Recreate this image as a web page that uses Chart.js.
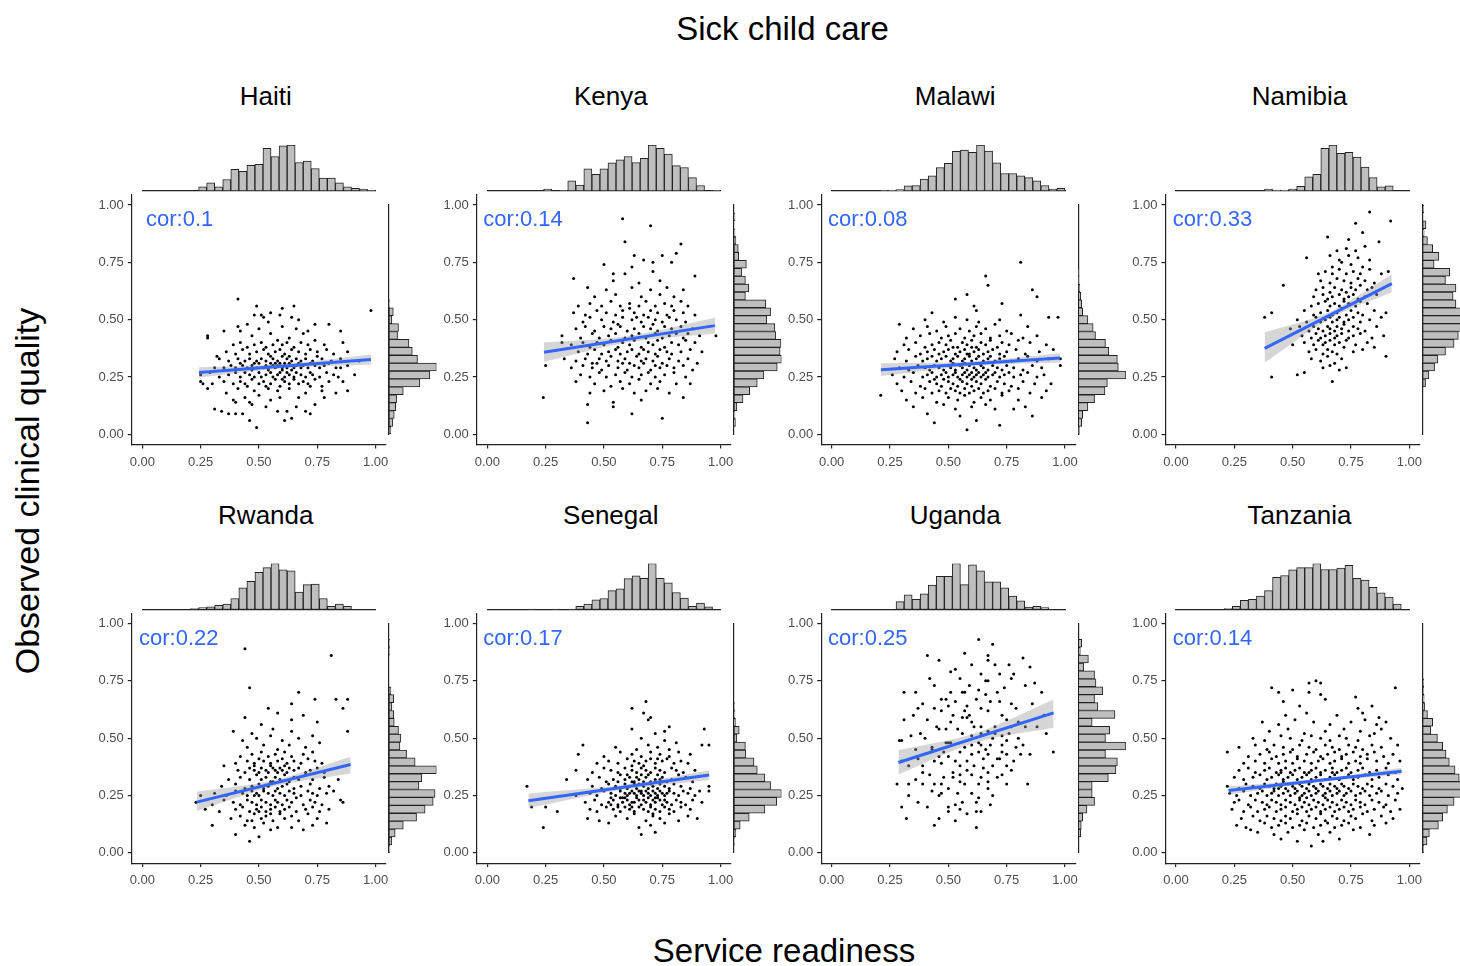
<!DOCTYPE html>
<html>
<head>
<meta charset="utf-8">
<script src="https://cdn.jsdelivr.net/npm/chart.js@4.4.1/dist/chart.umd.min.js"></script>
<style>
  html, body { margin: 0; padding: 0; background: #fff; }
  body { width: 1460px; height: 966px; position: relative; overflow: hidden;
         font-family: "Liberation Sans", Arial, sans-serif; }
  .txt { position: absolute; white-space: nowrap; color: #000; line-height: 1; }
</style>
</head>
<body>
<div class="txt" style="left:782.5px;top:12px;font-size:33px;transform:translateX(-50%);">Sick child care</div>
<div class="txt" style="left:784px;top:934px;font-size:33px;transform:translateX(-50%);">Service readiness</div>
<div class="txt" style="left:26.5px;top:491px;font-size:34px;transform:translate(-50%,-50%) rotate(-90deg);">Observed clinical quality</div>
<script>
// ---------- data ----------
const countries = ['Haiti', 'Kenya', 'Malawi', 'Namibia', 'Rwanda', 'Senegal', 'Uganda', 'Tanzania'];
const corValues = [0.1, 0.14, 0.08, 0.33, 0.22, 0.17, 0.25, 0.14];
const corLabelX = [0.016, -0.017, -0.016, -0.014, -0.014, -0.017, -0.016, -0.014];
const tickValues = [0, 0.25, 0.5, 0.75, 1];
const tickLabels = ['0.00', '0.25', '0.50', '0.75', '1.00'];

// linear fit ends and confidence band (left, middle, right)
const fitX0 = [0.243, 0.243, 0.211, 0.380, 0.233, 0.176, 0.286, 0.225];
const fitX1 = [0.980, 0.976, 0.979, 0.925, 0.893, 0.951, 0.951, 0.967];
const fitY0 = [0.270, 0.358, 0.282, 0.375, 0.221, 0.227, 0.394, 0.272];
const fitY1 = [0.326, 0.474, 0.333, 0.657, 0.385, 0.339, 0.610, 0.356];
const bandUpper = [[0.292, 0.308, 0.348], [0.400, 0.430, 0.508], [0.310, 0.318, 0.353], [0.445, 0.531, 0.698],
                   [0.266, 0.316, 0.419], [0.259, 0.293, 0.360], [0.448, 0.523, 0.669], [0.290, 0.321, 0.371]];
const bandLower = [[0.248, 0.288, 0.304], [0.316, 0.402, 0.440], [0.254, 0.298, 0.313], [0.312, 0.501, 0.619],
                   [0.182, 0.290, 0.346], [0.195, 0.273, 0.318], [0.342, 0.481, 0.545], [0.254, 0.307, 0.341]];

// marginal histograms (29 bins over 0..1, relative heights)
const haitiTop    = [0,0,0,0,0,0,0,9,18,9,25,47,43,56,58,93,75,98,100,62,65,49,28,28,18,9,6,4,1];
const haitiSide   = [4,8,11,14,16,30,65,86,100,60,49,42,18,20,6,9,1,0,0,0,0,0,0,0,0,0,0,0,0];
const kenyaTop    = [0,0,0,0,0,0,0,4,0,1,22,13,48,36,48,61,68,75,62,71,100,93,80,55,51,29,12,0,1];
const kenyaSide   = [0,3,2,6,19,33,49,63,91,100,97,99,88,86,69,77,67,24,31,24,16,26,10,9,4,2,0,2,0];
const malawiTop   = [0,0,0,0,0,0,1,2,3,11,12,26,33,51,60,86,89,84,100,87,61,38,38,33,29,22,12,4,6];
const malawiSide  = [2,7,9,20,34,56,61,100,84,82,64,57,36,31,20,9,7,5,3,1,1,0,0,0,0,0,0,0,0];
const namibiaTop  = [0,0,0,0,0,0,0,0,0,0,0,4,2,2,4,10,31,36,93,100,82,84,74,52,29,9,11,0,0];
const namibiaSide = [0,0,0,0,0,0,6,13,25,32,48,66,75,100,90,82,70,64,70,48,57,24,34,21,10,3,7,0,2];
const rwandaTop   = [0,0,0,0,0,0,2,4,6,9,12,24,47,61,81,91,100,86,84,38,54,55,24,7,12,7,0,0,0];
const rwandaSide  = [2,6,13,30,58,76,93,97,63,69,100,55,37,23,25,20,11,10,6,10,4,0,0,0,0,1,1,0,0];
const senegalTop  = [0,0,0,0,0,1,0,0,1,0,1,7,12,21,24,41,45,67,73,68,100,68,58,37,25,7,14,6,0];
const senegalSide = [0,1,4,13,32,65,90,100,77,65,49,42,25,24,6,11,3,2,1,0,0,0,0,0,0,0,0,0,0];
const ugandaTop   = [0,0,0,0,0,0,0,0,17,32,22,34,53,72,72,100,54,97,84,60,60,47,29,19,5,7,4,0,0];
const ugandaSide  = [0,0,5,6,9,18,34,29,29,63,79,82,57,100,57,66,29,77,41,34,51,37,34,11,21,4,7,0,0];
const tanzaniaTop = [0,0,0,0,0,0,2,7,20,22,29,41,70,74,86,91,91,100,87,87,90,96,68,64,48,36,27,12,0];
const tanzaniaSide= [2,9,14,33,42,52,66,94,100,77,68,56,49,42,31,17,21,10,4,3,2,2,0,0,0,0,0,0,0];

// facility scores: x,y pairs in percent (service readiness, observed quality)
const haitiPoints = [49,3,46,6,61,6,64,7,37,9,40,9,43,9,58,10,70,10,72,9,31,11,34,10,53,12,62,10,74,13,47,13,66,12,
39,15,40,14,46,14,78,16,67,16,55,15,59,16,44,16,83,18,77,19,58,19,50,17,41,20,28,20,36,18,63,20,70,18,48,19,54,20,72,21,88,19,
25,23,26,22,86,23,30,22,35,23,39,22,42,23,45,21,47,24,50,22,52,23,55,22,57,24,59,21,61,23,63,22,65,24,67,22,69,23,71,22,74,24,77,21,80,23,44,22,60,24,53,21,
25,26,29,27,91,26,33,25,37,26,40,27,42,25,44,27,46,26,48,25,50,27,51,25,53,26,55,27,56,25,58,26,59,27,61,25,62,27,63,26,65,25,66,27,68,26,70,25,72,27,73,26,76,25,79,27,82,26,84,25,54,28,60,28,64,28,47,28,
31,29,35,29,85,29,38,30,40,29,43,30,45,29,47,30,49,29,50,31,52,29,53,30,54,29,55,31,56,30,57,29,58,30,59,31,60,29,61,30,62,29,63,31,64,30,65,29,66,30,67,31,68,29,69,30,71,29,72,31,74,30,76,29,78,30,80,31,83,29,88,30,57,31,61,31,48,31,42,31,
93,32,33,33,37,32,41,33,44,32,46,33,49,32,51,33,53,32,56,33,58,32,60,34,62,33,64,32,66,33,68,32,70,33,73,32,75,34,77,33,81,32,85,33,55,34,63,34,
32,34,82,35,36,36,40,35,43,37,46,35,49,36,52,37,54,35,57,36,59,37,61,35,64,37,67,36,70,35,72,37,75,36,79,37,88,36,
86,40,39,39,42,40,45,38,48,39,51,40,53,38,56,39,58,41,60,39,62,40,65,38,68,40,71,39,74,41,78,39,
28,43,28,42,35,45,42,45,47,43,55,44,63,42,69,44,85,45,41,47,74,48,80,48,54,49,50,46,60,47,66,46,45,48,71,45,
48,52,51,52,52,51,55,53,59,52,64,51,67,50,60,55,41,59,49,56,65,56,98,54];

const kenyaPoints = [43,5,75,7,62,9,43,13,54,12,24,16,84,16,54,14,66,15,44,18,50,19,58,20,63,18,68,19,73,20,78,18,
70,22,81,22,38,23,46,22,53,21,57,23,61,22,65,24,74,23,87,22,40,26,44,25,48,27,51,25,55,26,59,27,62,25,66,26,69,27,72,25,76,26,80,27,85,25,
25,30,36,29,41,30,45,29,47,31,49,28,52,30,56,29,58,31,60,28,63,30,65,29,67,31,70,28,72,30,74,29,77,30,80,29,84,30,88,28,
33,33,38,32,42,33,45,31,48,33,51,32,53,34,56,32,59,33,61,31,64,34,66,32,68,33,71,32,73,34,75,31,78,33,82,32,86,33,90,31,
39,36,43,35,46,37,49,35,52,36,55,37,57,35,60,36,62,37,65,35,67,37,69,36,72,35,74,37,77,36,79,35,83,36,87,37,92,36,
32,40,36,39,41,40,44,38,47,40,50,39,53,41,56,38,58,40,61,39,63,41,66,38,69,40,71,39,73,41,76,38,79,40,82,39,85,41,89,40,
32,43,91,43,98,43,40,42,45,44,48,42,52,43,55,44,59,42,62,43,65,44,68,42,72,44,75,42,78,43,81,44,84,42,86,44,
38,46,42,47,46,45,50,47,53,46,57,47,60,45,63,46,67,47,70,46,73,45,76,47,79,46,83,47,88,46,71,48,56,48,
41,49,44,51,49,50,54,49,58,51,62,50,66,49,69,51,72,50,75,49,78,51,81,50,85,49,64,51,
37,53,42,52,47,54,51,53,55,52,58,54,63,53,67,52,70,54,73,53,77,52,80,54,84,53,89,52,61,55,
39,56,44,57,49,56,53,58,57,56,61,57,65,56,68,58,72,56,76,57,79,56,83,58,86,56,
46,60,55,61,66,60,74,61,80,60,43,64,51,63,62,64,70,63,77,64,84,63,37,68,54,67,65,66,74,67,89,69,
54,70,59,70,71,71,50,74,67,76,71,75,79,75,62,73,63,78,75,78,81,79,83,83,59,84,70,91,58,94];

const malawiPoints = [58,2,44,5,62,6,72,4,41,9,86,8,55,8,78,11,35,12,48,13,53,11,60,12,66,13,70,11,83,12,
21,17,32,15,39,16,45,14,50,16,54,15,57,17,61,14,64,16,68,15,73,17,80,15,90,16,
30,19,36,18,40,20,43,18,46,19,49,18,51,20,53,19,55,18,57,20,59,18,61,19,63,20,65,18,67,19,70,20,73,18,76,19,80,20,85,18,92,19,
94,22,28,22,34,23,38,21,42,23,45,22,47,21,50,23,52,22,54,21,56,23,58,22,60,21,62,23,64,22,66,24,68,21,71,23,74,22,77,21,82,23,87,22,44,24,
26,26,31,25,35,27,39,25,41,26,43,27,45,25,47,26,49,27,50,25,52,26,53,27,54,25,56,26,57,27,58,25,59,26,60,27,61,25,62,26,63,27,64,25,65,26,66,27,67,25,69,26,70,27,72,25,74,26,76,27,78,25,81,26,84,27,88,25,91,26,55,24,60,24,48,24,
98,30,29,29,33,28,37,30,40,29,42,28,44,30,46,29,48,28,50,30,51,29,53,28,55,30,56,29,58,28,59,30,61,29,62,28,64,30,65,29,67,28,69,30,71,29,73,28,75,30,78,29,82,28,86,30,90,29,57,31,63,31,52,31,
98,33,27,33,32,32,36,34,39,32,41,33,43,34,45,32,47,33,49,34,51,32,52,33,54,34,56,32,57,33,59,34,60,32,62,33,63,34,65,32,67,33,68,34,70,32,72,33,74,34,77,32,80,33,84,34,88,32,93,33,58,35,
28,36,33,37,38,35,41,36,44,37,46,35,48,36,50,37,53,35,55,36,57,37,59,35,61,36,63,37,65,35,67,36,69,37,72,35,75,36,79,37,83,35,89,36,95,37,52,38,
31,39,36,40,40,38,43,39,46,40,49,39,51,41,54,38,56,40,58,39,60,41,62,38,64,40,66,39,68,41,71,38,73,40,76,39,80,41,85,40,92,39,60,38,
32,42,38,43,42,44,47,42,50,43,53,44,57,42,61,43,64,44,68,42,72,43,77,44,82,42,88,43,
29,48,35,46,41,47,45,45,49,47,55,46,59,45,62,47,66,46,70,48,75,45,84,47,
93,51,97,51,40,50,48,49,53,51,58,50,63,49,72,50,43,53,62,54,81,52,53,59,61,56,73,57,58,61,88,60,86,63,67,65,66,69,81,75];

const namibiaPoints = [67,23,41,25,52,26,55,27,63,29,66,30,70,28,73,29,58,33,62,32,65,34,68,31,71,33,90,34,
57,36,60,37,63,35,65,37,67,36,69,35,72,38,76,36,80,37,
50,39,55,40,59,39,61,41,63,39,64,40,66,41,68,39,70,40,73,41,77,39,82,40,85,38,
54,43,58,42,60,44,62,42,64,43,66,44,68,42,69,43,71,44,74,42,76,43,79,44,84,42,89,43,
49,46,53,47,57,45,59,47,61,46,63,45,65,47,66,46,68,45,69,47,71,46,72,48,74,45,76,47,78,46,81,45,86,47,
38,51,52,50,56,49,60,51,62,49,64,50,66,51,67,49,69,50,70,51,72,49,74,50,76,51,79,49,83,50,88,51,
41,53,55,54,59,52,62,53,65,54,67,52,69,53,71,55,73,52,75,54,78,53,80,52,85,54,90,53,
58,56,61,57,64,58,66,56,68,57,70,56,72,58,74,57,77,56,79,58,82,57,
59,60,63,61,65,59,67,60,70,61,72,59,74,60,76,61,78,59,81,60,86,61,
46,65,60,63,63,64,66,62,68,64,71,63,73,62,75,64,77,63,79,65,82,63,84,64,
62,67,66,66,69,68,72,67,75,66,78,68,81,67,85,66,
61,70,64,71,67,70,70,72,73,70,76,71,79,70,83,72,91,71,88,70,
67,73,71,75,75,74,80,73,56,77,66,78,70,76,74,78,78,77,83,76,69,80,73,81,77,80,81,82,
87,84,74,85,65,86,80,88,77,92,92,93,83,97];

const rwandaPoints = [46,5,50,7,40,8,55,10,69,10,30,12,64,11,79,13,44,12,52,13,58,11,73,12,48,11,
38,15,42,16,45,14,48,17,51,15,53,16,56,14,59,17,61,15,64,16,67,14,71,17,75,15,47,14,55,17,
27,19,33,18,40,19,43,20,46,18,49,19,51,20,53,18,55,19,57,20,59,18,61,19,63,20,66,18,70,19,73,20,76,18,80,19,50,18,
23,22,30,21,35,23,39,22,42,21,45,23,47,22,49,21,51,23,53,22,55,21,57,23,58,22,60,21,62,23,64,22,66,24,69,21,72,23,74,22,77,21,85,23,86,22,
25,25,31,26,36,25,40,27,43,26,45,25,47,27,49,26,50,25,52,27,54,26,56,25,57,27,59,26,61,25,63,27,65,26,68,25,71,27,73,26,75,25,79,26,82,27,48,25,
34,29,40,30,44,28,47,29,50,30,52,28,54,29,56,31,58,28,60,29,62,30,65,28,68,29,72,30,76,28,80,29,
37,32,42,33,46,32,49,34,51,32,53,33,55,31,57,33,59,32,61,34,63,31,65,33,67,32,70,34,73,32,78,33,84,32,
35,38,41,36,44,35,46,37,48,36,50,35,51,37,53,36,54,35,56,37,57,36,58,35,59,37,60,36,62,35,63,37,65,36,67,37,70,35,72,36,75,37,78,35,48,38,55,38,61,38,
40,39,45,40,48,39,50,41,52,40,55,39,58,40,60,41,62,39,65,40,68,39,71,41,74,40,77,39,
42,42,47,43,51,44,54,42,57,43,61,44,64,42,69,43,73,44,45,46,52,47,58,45,63,47,70,46,76,48,
43,49,49,50,55,51,60,49,67,50,73,51,39,53,88,53,47,52,56,54,64,53,75,57,64,58,51,56,
44,59,58,61,69,60,54,63,86,63,64,65,74,67,83,67,88,67,67,70,46,72,81,86,44,89];

const senegalPoints = [72,9,66,8,24,11,65,11,52,13,70,12,76,13,
43,15,86,16,90,15,48,14,55,16,60,15,63,17,68,14,71,16,74,15,78,17,82,14,
30,18,19,20,25,20,44,19,47,18,51,20,54,19,57,18,59,20,61,19,63,18,65,20,67,19,69,18,70,20,72,19,74,18,76,20,78,19,80,18,83,20,87,19,62,20,71,17,56,20,
42,22,46,23,49,21,52,22,54,23,56,21,58,22,60,23,61,21,63,22,64,24,66,21,67,23,68,22,70,21,71,23,72,22,73,24,75,21,76,23,77,22,79,21,81,23,83,22,85,21,88,23,92,22,65,23,69,24,59,24,74,23,62,22,57,24,53,21,
38,25,44,26,47,25,50,27,53,26,55,25,57,27,59,26,60,25,62,27,63,26,64,25,65,27,66,26,67,25,68,27,69,26,70,25,71,27,72,26,73,25,74,27,75,26,76,25,78,27,80,26,82,25,84,27,86,26,89,25,95,27,91,27,58,24,61,26,66,27,72,24,77,26,53,24,
17,29,45,29,49,28,52,30,55,29,57,28,59,30,61,29,62,31,64,28,65,30,67,29,69,28,70,30,71,29,73,28,74,30,76,29,78,28,80,30,83,29,87,28,95,29,60,28,67,31,72,31,56,31,75,31,63,30,
34,32,43,32,48,33,51,31,54,32,57,34,59,32,61,33,63,31,65,32,66,34,68,33,70,31,72,32,73,34,75,33,77,31,79,32,82,34,85,33,88,31,60,34,69,34,64,33,74,32,
38,36,45,35,50,37,53,36,56,35,59,37,62,36,64,35,66,37,68,36,70,35,72,37,74,36,76,35,79,37,81,36,84,35,89,36,67,38,
47,39,52,40,56,39,60,41,63,40,65,39,68,40,70,41,72,39,75,40,77,41,80,39,83,40,86,39,73,41,62,38,
39,43,50,42,57,44,62,43,66,42,70,44,74,43,78,42,82,44,87,43,
41,47,92,47,95,47,55,46,64,45,69,47,73,46,78,45,81,48,66,50,76,49,
76,53,93,54,72,52,62,54,78,55,69,58,70,59,67,61,62,63,68,66];

const ugandaPoints = [63,93,69,91,41,86,46,84,57,87,67,86,67,84,76,82,82,85,85,81,70,82,51,79,55,76,64,78,66,75,78,78,77,76,
44,73,59,73,67,75,83,73,31,70,36,70,51,70,56,70,57,70,63,71,90,70,47,67,49,67,66,69,68,66,72,66,
37,63,44,63,50,64,57,62,59,60,64,63,67,62,77,65,79,63,86,65,31,58,51,57,56,59,58,59,64,55,75,58,80,57,83,55,
46,54,49,54,54,54,61,55,67,53,70,52,77,55,34,51,38,52,29,49,30,49,43,45,50,48,51,48,58,49,60,51,64,47,69,50,73,47,75,49,79,46,85,43,95,44,
37,41,46,42,50,42,55,44,60,43,63,44,67,43,71,41,72,41,75,43,39,38,47,39,55,38,65,37,67,35,73,34,42,34,48,33,55,34,60,34,64,33,
28,30,33,30,36,32,39,30,47,30,52,33,57,30,63,30,67,31,75,30,43,27,47,26,54,26,60,26,69,25,37,22,30,20,50,20,53,21,56,22,62,22,68,21,
46,15,50,18,58,17,62,18,64,18,32,15,44,12,53,14,62,11,55,19,49,48,43,46,60,47,73,51,
45,55,52,60,56,52,60,57,63,48,66,45,70,55,73,60,76,52,80,50,41,58,47,62,53,66,58,64,62,67,71,70,74,72,
36,45,40,50,44,40,48,44,53,40,57,46,61,38,65,41,69,38,73,44,78,40,82,47,33,38,39,35,44,30,50,28,55,31,58,36,
63,24,67,28,71,33,77,36,84,30,88,55,91,60,35,60,39,65,42,76,53,80,60,82,72,78,87,74,30,40,33,25,41,20,46,25,
52,35,58,40,64,52,68,47,75,38,81,43,92,52];

const tanzaniaPoints = [58,3,52,5,70,6,45,6,63,5,32,10,35,9,42,8,48,9,55,10,61,8,66,9,76,10,83,8,
26,12,30,11,38,13,41,11,44,12,47,13,50,11,53,12,56,13,59,11,62,12,65,13,68,11,71,12,74,13,79,11,85,12,90,13,
28,15,33,16,36,14,39,16,42,15,45,14,47,16,49,15,52,17,54,14,57,16,60,15,62,17,64,14,67,16,69,15,72,14,75,16,77,15,80,17,84,14,88,16,93,15,
24,19,29,18,32,20,35,18,38,19,40,20,43,18,45,19,47,20,50,18,52,19,54,20,56,18,58,19,60,20,62,18,64,19,66,20,68,18,70,19,72,20,74,18,76,19,79,20,82,18,85,19,89,20,92,18,96,19,
25,22,27,23,31,21,34,23,37,22,39,21,41,23,43,22,45,21,47,23,49,22,51,21,53,23,55,22,57,21,59,23,61,22,63,21,65,23,67,22,69,21,71,23,73,22,75,21,77,23,79,22,81,21,84,23,87,22,90,21,94,23,56,24,64,24,
23,26,26,25,29,27,32,25,35,26,37,27,39,25,41,26,42,27,44,25,46,26,48,27,49,25,51,26,52,27,54,25,55,26,57,27,58,25,60,26,61,27,63,25,64,26,66,27,67,25,69,26,70,27,72,25,73,26,75,27,77,25,79,26,81,27,83,25,86,26,88,27,91,25,95,26,53,24,44,28,
22,29,27,28,30,30,33,29,36,28,38,30,40,29,42,28,43,30,45,29,47,28,48,30,50,29,51,28,53,30,54,29,56,28,57,30,59,29,60,28,62,30,63,29,65,28,66,30,68,29,69,28,71,30,72,29,74,28,76,30,78,29,80,28,82,30,84,29,87,28,90,30,93,29,97,28,58,31,46,31,
25,33,29,32,33,33,36,34,39,32,41,33,44,34,46,32,48,33,50,34,52,32,54,33,56,34,58,32,60,33,62,34,64,32,66,33,68,34,70,32,72,33,74,34,76,32,78,33,81,34,84,32,87,33,91,34,95,32,57,35,67,35,45,35,
27,36,31,37,34,35,38,36,40,37,43,35,45,36,47,37,49,35,51,36,53,37,55,35,58,36,60,37,62,35,64,36,67,37,69,35,71,36,73,37,75,35,78,36,80,37,83,35,86,36,90,37,94,35,
29,39,34,40,38,39,41,41,44,39,47,40,50,39,52,41,55,40,58,39,61,40,63,41,66,39,68,40,71,41,74,39,77,40,79,39,82,41,86,40,91,39,96,40,
22,44,31,42,36,43,40,44,43,42,46,43,49,44,52,42,56,43,59,44,62,42,65,43,68,44,71,42,73,43,76,44,79,42,82,43,85,44,89,42,93,43,
27,46,34,47,39,45,42,47,46,46,50,45,53,47,57,46,60,45,64,47,67,46,70,45,74,47,77,46,80,45,84,47,88,46,95,47,
33,50,38,49,45,51,49,50,54,49,58,51,62,50,66,49,70,51,73,50,78,49,83,51,92,50,
40,53,48,54,55,52,64,53,72,54,79,53,85,52,88,54,37,57,44,56,51,58,59,57,66,56,75,57,81,58,86,56,90,57,
47,60,56,61,69,60,80,61,87,59,53,64,78,63,84,64,46,66,64,67,77,68,62,69,44,70,50,71,57,70,94,72,41,72,60,75,62,74,57,74];

// ---------- layout constants ----------
Chart.defaults.font.family = '"Liberation Sans", Arial, sans-serif';
const COL_X0 = [142.3, 487.3, 831.7, 1176.0];   // pixel of x = 0
const ROW_Y0 = [434.3, 852.8];                   // pixel of y = 0
const PX_X = 233.3, PX_Y = 229.3;                // pixels per unit
const LO = -0.045, HI = 1.045;                   // panel range with expansion
const AXIS_COLOR = '#222';
const BAR_FILL = '#bebebe';

const pointSets = [haitiPoints, kenyaPoints, malawiPoints, namibiaPoints, rwandaPoints, senegalPoints, ugandaPoints, tanzaniaPoints];
const topHists = [haitiTop, kenyaTop, malawiTop, namibiaTop, rwandaTop, senegalTop, ugandaTop, tanzaniaTop];
const sideHists = [haitiSide, kenyaSide, malawiSide, namibiaSide, rwandaSide, senegalSide, ugandaSide, tanzaniaSide];
const binLabels = Array.from({length: 29}, (_, k) => String(k));

function makeBox(l, t, w, h) {
  const d = document.createElement('div');
  d.style.cssText = `position:absolute;left:${l}px;top:${t}px;width:${w}px;height:${h}px;`;
  const c = document.createElement('canvas');
  d.appendChild(c);
  document.body.appendChild(d);
  return c;
}

function fixSize(size) {
  return (s) => {
    if (s.isHorizontal()) s.height = size; else s.width = size;
    s.paddingLeft = s.paddingRight = s.paddingTop = s.paddingBottom = 0;
  };
}

const baseOpts = {
  responsive: true, maintainAspectRatio: false, animation: false,
  plugins: { legend: { display: false }, tooltip: { enabled: false } },
  events: []
};

function addTitle(i) {
  const c = i % 4, r = Math.floor(i / 4);
  const d = document.createElement('div');
  d.className = 'txt';
  d.style.cssText += `left:${COL_X0[c] + 123.5}px;top:${ROW_Y0[r] - 329.3 - 22}px;font-size:26px;transform:translateX(-50%);`;
  d.textContent = countries[i];
  document.body.appendChild(d);
}

const corPlugin = {
  id: 'corLabel',
  afterDatasetsDraw(chart, args, opts) {
    const {ctx, scales} = chart;
    ctx.save();
    ctx.fillStyle = '#3366FF';
    ctx.font = '22px "Liberation Sans", Arial, sans-serif';
    ctx.textAlign = 'left';
    ctx.textBaseline = 'alphabetic';
    ctx.fillText(opts.text, scales.x.getPixelForValue(opts.x), scales.y.getPixelForValue(0.908));
    ctx.restore();
  }
};

function scatterPanel(i) {
  const c = i % 4, r = Math.floor(i / 4);
  const x0 = COL_X0[c], y0 = ROW_Y0[r];
  const aL = x0 + LO * PX_X, aR = x0 + HI * PX_X;
  const aT = y0 - HI * PX_Y, aB = y0 - LO * PX_Y;
  const cl = Math.floor(aL - 50), ct = Math.floor(aT - 2);
  const cw = Math.ceil(aR + 22) - cl, ch = Math.ceil(aB + 34) - ct;
  const canvas = makeBox(cl, ct, cw, ch);

  const raw = pointSets[i];
  const pts = [];
  for (let k = 0; k < raw.length; k += 2) pts.push({x: raw[k] / 100, y: raw[k + 1] / 100});
  const xm = (fitX0[i] + fitX1[i]) / 2;
  const bx = [fitX0[i], xm, fitX1[i]];

  const tickOpts = {
    font: {size: 13}, color: '#4d4d4d', maxRotation: 0, autoSkip: false,
    callback: (v) => tickLabels[tickValues.indexOf(v)]
  };
  const gridOpts = {drawOnChartArea: false, drawTicks: true, tickLength: 4, color: AXIS_COLOR, lineWidth: 1.2};

  new Chart(canvas, {
    type: 'scatter',
    data: {
      datasets: [
        {type: 'line', data: [{x: fitX0[i], y: fitY0[i]}, {x: fitX1[i], y: fitY1[i]}],
         borderColor: '#3366FF', borderWidth: 3, pointRadius: 0, order: 0},
        {type: 'line', data: bx.map((x, k) => ({x, y: bandUpper[i][k]})), borderWidth: 0, pointRadius: 0,
         fill: '+1', backgroundColor: 'rgba(153,153,153,0.4)', cubicInterpolationMode: 'monotone', order: 1},
        {type: 'line', data: bx.map((x, k) => ({x, y: bandLower[i][k]})), borderWidth: 0, pointRadius: 0,
         fill: false, cubicInterpolationMode: 'monotone', order: 1},
        {type: 'scatter', data: pts, pointRadius: 1.5, pointBackgroundColor: '#000', pointBorderWidth: 0, order: 2}
      ]
    },
    options: Object.assign({}, baseOpts, {
      layout: {autoPadding: false, padding: {left: 0, top: aT - ct, right: cw - (aR - cl), bottom: 0}},
      scales: {
        x: {type: 'linear', min: LO, max: HI,
            afterBuildTicks: (s) => { s.ticks = tickValues.map(v => ({value: v})); },
            afterFit: fixSize(ch - (aB - ct)),
            ticks: Object.assign({padding: 6}, tickOpts), grid: gridOpts,
            border: {display: true, color: AXIS_COLOR, width: 1.2}},
        y: {type: 'linear', min: LO, max: HI,
            afterBuildTicks: (s) => { s.ticks = tickValues.map(v => ({value: v})); },
            afterFit: fixSize(aL - cl),
            ticks: Object.assign({padding: 4}, tickOpts), grid: gridOpts,
            border: {display: true, color: AXIS_COLOR, width: 1.2}}
      },
      plugins: Object.assign({}, baseOpts.plugins, {corLabel: {text: 'cor:' + corValues[i], x: corLabelX[i]}})
    }),
    plugins: [corPlugin]
  });
}

function topHistPanel(i) {
  const c = i % 4, r = Math.floor(i / 4);
  const x0 = COL_X0[c], y0 = ROW_Y0[r];
  const hL = x0, hR = x0 + PX_X, hT = y0 - 289.3, hB = y0 - 243.3;
  const cl = Math.floor(hL - 3), ct = Math.floor(hT - 3);
  const cw = Math.ceil(hR + 3) - cl, ch = Math.ceil(hB + 3) - ct;
  const canvas = makeBox(cl, ct, cw, ch);
  new Chart(canvas, {
    type: 'bar',
    data: {labels: binLabels, datasets: [{data: topHists[i], backgroundColor: BAR_FILL, borderColor: AXIS_COLOR,
      borderWidth: 1, borderSkipped: false, barPercentage: 1, categoryPercentage: 1}]},
    options: Object.assign({}, baseOpts, {
      layout: {autoPadding: false, padding: {left: hL - cl, right: cw - (hR - cl), top: hT - ct, bottom: ch - (hB - ct)}},
      scales: {
        x: {type: 'category', afterFit: fixSize(0), ticks: {display: false}, grid: {display: false},
            border: {display: true, color: AXIS_COLOR, width: 1.2}},
        y: {type: 'linear', min: 0, max: 100, display: false}
      }
    })
  });
}

function sideHistPanel(i) {
  const c = i % 4, r = Math.floor(i / 4);
  const x0 = COL_X0[c], y0 = ROW_Y0[r];
  const hL = x0 + 246.7, hR = hL + 47.5, hT = y0 - PX_Y, hB = y0;
  const cl = Math.floor(hL - 3), ct = Math.floor(hT - 3);
  const cw = Math.ceil(hR + 3) - cl, ch = Math.ceil(hB + 3) - ct;
  const canvas = makeBox(cl, ct, cw, ch);
  new Chart(canvas, {
    type: 'bar',
    data: {labels: binLabels, datasets: [{data: sideHists[i], backgroundColor: BAR_FILL, borderColor: AXIS_COLOR,
      borderWidth: 1, borderSkipped: false, barPercentage: 1, categoryPercentage: 1}]},
    options: Object.assign({}, baseOpts, {
      indexAxis: 'y',
      layout: {autoPadding: false, padding: {left: hL - cl, right: cw - (hR - cl), top: hT - ct, bottom: ch - (hB - ct)}},
      scales: {
        y: {type: 'category', reverse: true, afterFit: fixSize(0), ticks: {display: false}, grid: {display: false},
            border: {display: true, color: AXIS_COLOR, width: 1.2}},
        x: {type: 'linear', min: 0, max: 100, display: false}
      }
    })
  });
}

for (let i = 0; i < countries.length; i++) {
  addTitle(i);
  topHistPanel(i);
  sideHistPanel(i);
  scatterPanel(i);
}
</script>
</body>
</html>
